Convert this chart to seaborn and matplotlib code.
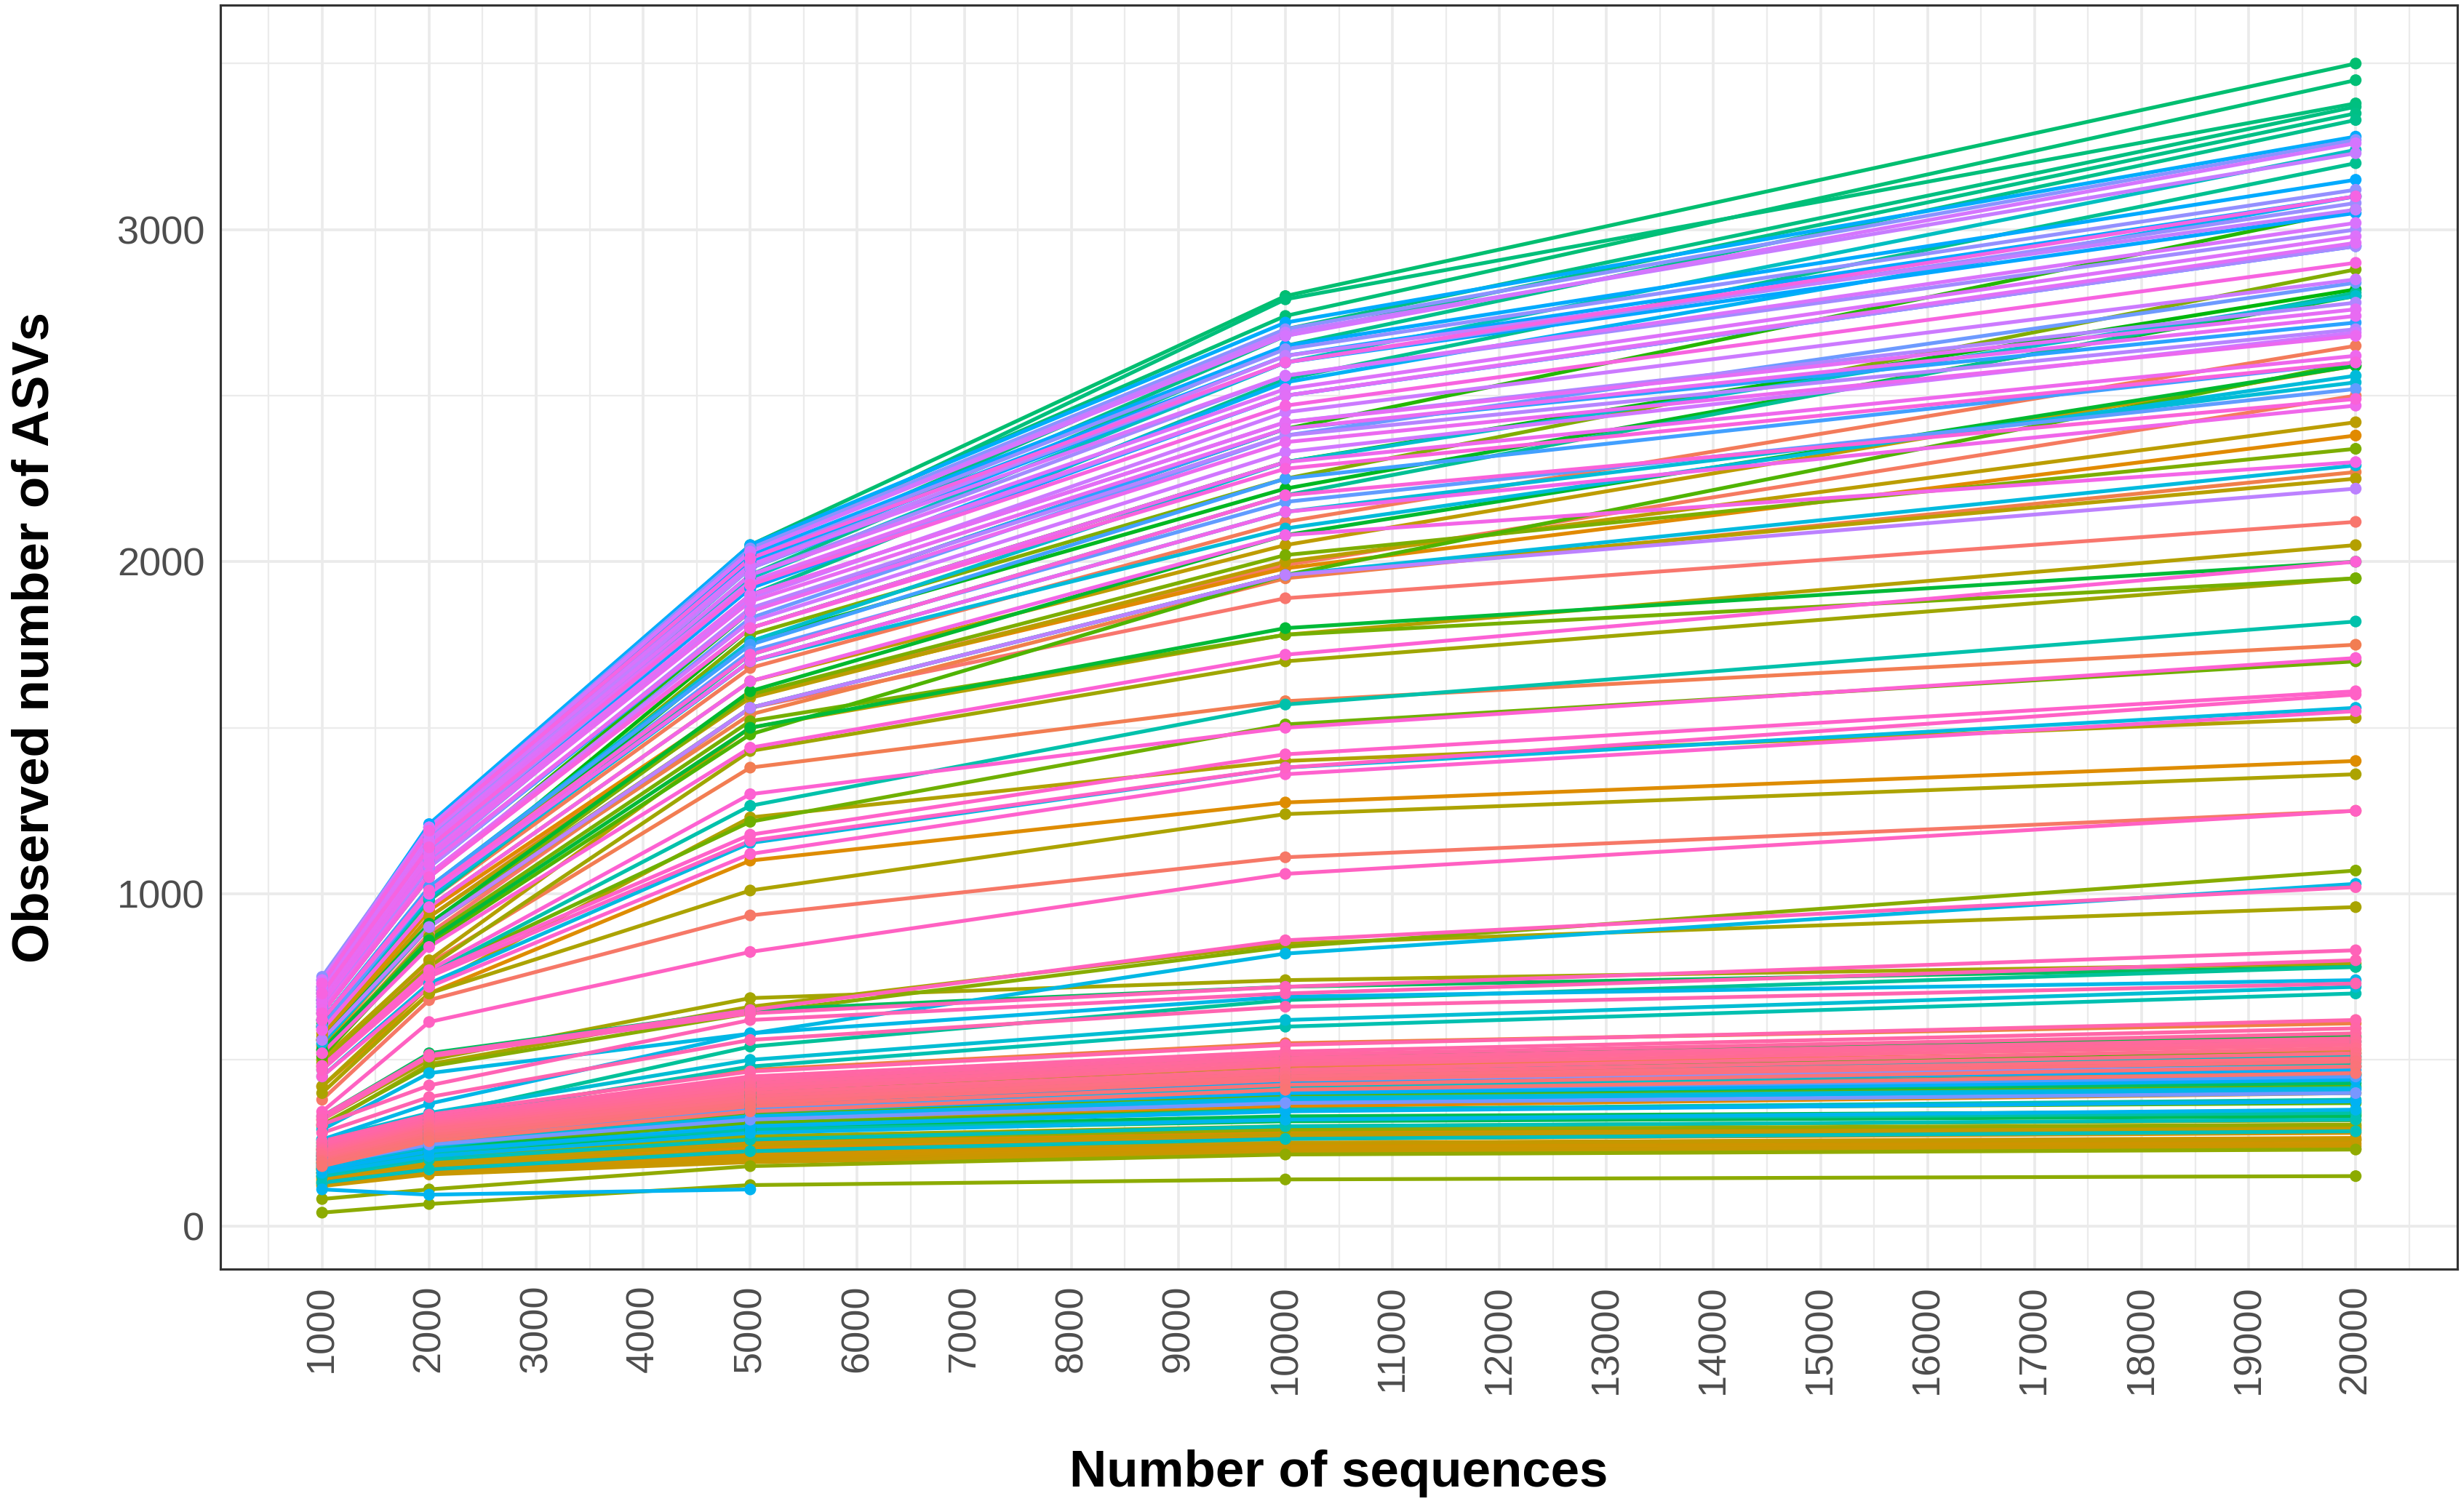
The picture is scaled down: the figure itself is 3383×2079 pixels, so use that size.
import numpy as np
import pandas as pd
import matplotlib
matplotlib.use("Agg")
import matplotlib.pyplot as plt
import seaborn as sns

# ---------------- data ----------------
depths = [1000, 2000, 5000, 10000, 20000]

# observed ASVs per sample at each rarefaction depth (None = depth not reached)
g00 = [[520, 880, 1560, 1890, 2120], [380, 680, 935, 1110, 1250], [560, 930, 1600, 1990, 2500],
       [590, 980, 1680, 2120, 2650], [500, 790, 1380, 1580, 1750], [540, 900, 1540, 1950, 2270],
       [250, 330, 470, 550, 610], [230, 300, 410, 480, 530], [215, 290, 390, 460, 510],
       [200, 270, 360, 420, 460], [190, 255, 340, 400, 440], [175, 240, 310, 360, 400]]
g01 = [[570, 950, 1600, 1980, 2380], [420, 700, 1100, 1275, 1400], [160, 200, 250, 280, 300],
       [150, 190, 240, 270, 290], [145, 180, 230, 262, 280], [140, 175, 220, 250, 265],
       [135, 170, 212, 242, 258], [130, 165, 205, 235, 248], [125, 160, 198, 228, 240],
       [120, 155, 192, 220, 232], [150, 185, 225, 250, 260], [160, 195, 245, 275, 295]]
g02 = [[580, 960, 1640, 2050, 2590], [560, 930, 1590, 2000, 2420], [545, 905, 1560, 1960, 2250],
       [500, 800, 1500, 1780, 2050], [420, 720, 1230, 1400, 1530], [400, 700, 1010, 1240, 1360],
       [300, 487, 660, 850, 960], [320, 500, 686, 740, 790], [490, 780, 1430, 1700, 1950],
       [170, 215, 270, 300, 318], [160, 205, 260, 290, 305], [81, 110, 180, 215, 230]]
g03 = [[40, 66, 123, 140, 150], [305, 480, 640, 840, 1070], [600, 990, 1780, 2250, 2880],
       [560, 900, 1600, 2020, 2340], [530, 870, 1520, 1780, 1950], [480, 760, 1217, 1510, 1700],
       [200, 260, 340, 390, 420], [190, 240, 310, 350, 370], [170, 220, 285, 320, 335],
       [510, 850, 1480, 1960, 2600], [210, 280, 380, 440, 480], [230, 300, 400, 470, 520]]
g04 = [[640, 1050, 1850, 2400, 3060], [620, 1000, 1800, 2300, 2820], [610, 985, 1760, 2220, 2800],
       [560, 910, 1610, 2080, 2590], [530, 860, 1500, 1800, 2000], [240, 320, 430, 510, 570],
       [220, 290, 390, 450, 500], [185, 235, 295, 330, 345], [175, 225, 285, 315, 330],
       [330, 520, 650, 720, 780], [200, 265, 350, 400, 430], [210, 275, 365, 420, 455]]
g05 = [[720, 1200, 2050, 2800, 3500], [710, 1190, 2040, 2740, 3450], [700, 1180, 2020, 2790, 3380],
       [690, 1170, 2000, 2700, 3370], [680, 1150, 1980, 2680, 3350], [670, 1140, 1960, 2650, 3330],
       [660, 1100, 1900, 2550, 3200], [600, 980, 1720, 2200, 2810], [250, 330, 540, 680, 780],
       [230, 310, 420, 500, 555], [210, 285, 385, 445, 490], [180, 230, 290, 320, 340]]
g06 = [[470, 760, 1265, 1570, 1820], [240, 320, 480, 600, 700], [170, 220, 300, 350, 380],
       [150, 200, 260, 300, 320], [130, 170, 225, 262, 285], [680, 1150, 1950, 2600, 3240],
       [220, 295, 400, 465, 510], [200, 270, 360, 420, 455], [620, 1020, 1760, 2300, 2800],
       [190, 250, 330, 385, 415], [260, 340, 500, 620, 720], [600, 990, 1700, 2150, 2540]]
g07 = [[600, 990, 1700, 2100, 2560], [550, 900, 1560, 1960, 2290], [450, 730, 1153, 1380, 1560],
       [290, 460, 579, 820, 1030], [260, 368, 580, 690, 740], [180, 240, 330, 380, 410],
       [160, 210, 280, 320, 350], [110, 94, 110, None, None], [170, 225, 300, 345, 375],
       [660, 1120, 1920, 2540, 3100], [200, 265, 345, 400, 440], [210, 280, 370, 430, 470]]
g08 = [[740, 1210, 2050, 2720, 3280], [720, 1190, 2020, 2650, 3150], [710, 1170, 2000, 2620, 3100],
       [700, 1160, 1980, 2600, 3050], [680, 1120, 1920, 2500, 2950], [650, 1080, 1850, 2400, 2720],
       [620, 1020, 1750, 2250, 2600], [200, 260, 350, 410, 450], [600, 1000, 1730, 2180, 2520],
       [640, 1050, 1830, 2380, 2840], [185, 245, 320, 370, 400], [215, 285, 380, 440, 480]]
g09 = [[750, 1200, 2040, 2700, 3270], [730, 1180, 2010, 2640, 3120], [720, 1170, 1990, 2600, 3080],
       [700, 1150, 1960, 2560, 3000], [690, 1130, 1930, 2500, 2950], [670, 1100, 1900, 2420, 2780],
       [660, 1080, 1860, 2380, 2700], [560, 900, 1560, 1960, 2220], [710, 1160, 1980, 2620, 3060],
       [740, 1200, 2030, 2690, 3230], [680, 1110, 1890, 2450, 2850], [640, 1060, 1820, 2330, 2690]]
g10 = [[740, 1200, 2030, 2680, 3260], [720, 1180, 1990, 2560, 3020], [710, 1160, 1960, 2520, 2980],
       [700, 1150, 1940, 2500, 2960], [690, 1120, 1900, 2420, 2760], [680, 1110, 1880, 2400, 2740],
       [670, 1090, 1850, 2360, 2680], [650, 1060, 1800, 2300, 2620], [620, 1000, 1700, 2150, 2470],
       [590, 960, 1640, 2080, 2300], [730, 1190, 2010, 2600, 3100], [700, 1140, 1930, 2470, 2900]]
g11 = [[640, 1050, 1800, 2280, 2600], [620, 1010, 1720, 2200, 2490], [520, 840, 1440, 1720, 2000],
       [480, 770, 1300, 1500, 1710], [450, 720, 1120, 1360, 1550], [482, 760, 1178, 1420, 1610],
       [470, 750, 1160, 1380, 1600], [344, 614, 825, 1060, 1250], [330, 515, 650, 860, 1020],
       [320, 510, 640, 720, 830], [305, 423, 620, 700, 800], [280, 388, 560, 660, 730]]
g12 = [[255, 335, 465, 545, 620], [245, 325, 450, 525, 595], [235, 318, 440, 515, 580],
       [230, 310, 430, 505, 565], [225, 305, 420, 495, 555], [220, 300, 410, 485, 545],
       [215, 295, 400, 470, 535], [210, 290, 390, 460, 520], [200, 280, 380, 450, 505],
       [195, 272, 370, 440, 495], [190, 265, 360, 425, 480], [180, 255, 345, 410, 460]]

groups = [g00, g01, g02, g03, g04, g05, g06, g07, g08, g09, g10, g11, g12]

rows = []
k = 0
for grp in groups:
    for series in grp:
        k += 1
        name = f"S{k:03d}"
        for d, v in zip(depths, series):
            if v is not None:
                rows.append((name, d, v))
df = pd.DataFrame(rows, columns=["sample", "depth", "asvs"])
samples = list(dict.fromkeys(df["sample"]))
N = len(samples)


# ---------------- ggplot-like hue palette (HCL, c=100, l=65) ----------------
def hcl_to_hex(h, c=100.0, l=65.0):
    hr = np.deg2rad(h)
    u = c * np.cos(hr)
    v = c * np.sin(hr)
    Xn, Yn, Zn = 95.047, 100.0, 108.883
    un = 4 * Xn / (Xn + 15 * Yn + 3 * Zn)
    vn = 9 * Yn / (Xn + 15 * Yn + 3 * Zn)
    Y = Yn * ((l + 16) / 116) ** 3 if l > 8 else Yn * l / 903.3
    up = u / (13 * l) + un
    vp = v / (13 * l) + vn
    X = Y * 9 * up / (4 * vp)
    Z = Y * (12 - 3 * up - 20 * vp) / (4 * vp)
    X, Y, Z = X / 100, Y / 100, Z / 100
    r = 3.2404542 * X - 1.5371385 * Y - 0.4985314 * Z
    g = -0.9692660 * X + 1.8760108 * Y + 0.0415560 * Z
    b = 0.0556434 * X - 0.2040259 * Y + 1.0572252 * Z

    def gam(t):
        t = max(0.0, min(1.0, t))
        return 12.92 * t if t <= 0.0031308 else 1.055 * t ** (1 / 2.4) - 0.055

    return "#{:02X}{:02X}{:02X}".format(*[int(round(gam(t) * 255)) for t in (r, g, b)])


hues = np.linspace(15, 375, N + 1)[:N]
palette = {s: hcl_to_hex(h % 360) for s, h in zip(samples, hues)}

# ---------------- figure ----------------
sns.set_style("white")
plt.rcParams["font.family"] = ["Liberation Sans", "DejaVu Sans"]

W, H, DPI = 3383, 2079, 300
fig = plt.figure(figsize=(W / DPI, H / DPI), dpi=DPI)
fig.patch.set_facecolor("white")
left, right, top, bottom = 303 / W, 3378 / W, 7 / H, 1745 / H
ax = fig.add_axes([left, 1 - bottom, right - left, bottom - top])

sns.lineplot(data=df, x="depth", y="asvs", hue="sample", hue_order=samples,
             palette=palette, estimator=None, linewidth=1.25, legend=False,
             ax=ax, zorder=2)
sns.scatterplot(data=df, x="depth", y="asvs", hue="sample", hue_order=samples,
                palette=palette, s=15, linewidth=0, legend=False, ax=ax, zorder=3)

ax.set_xlim(50, 20950)
ax.set_ylim(-130, 3676)

ax.set_xticks(np.arange(1000, 20001, 1000))
ax.set_xticks(np.arange(500, 20951, 1000), minor=True)
ax.set_yticks([0, 1000, 2000, 3000])
ax.set_yticks([500, 1500, 2500, 3500], minor=True)

ax.grid(which="major", color="#EBEBEB", linewidth=0.9, zorder=0)
ax.grid(which="minor", color="#EBEBEB", linewidth=0.55, zorder=0)
ax.set_axisbelow(True)

ax.tick_params(axis="both", which="major", length=2.6, width=0.7, color="#333333",
               labelsize=13, labelcolor="#4D4D4D", pad=2.6)
ax.tick_params(axis="both", which="minor", length=0)
for lab in ax.get_xticklabels():
    lab.set_rotation(90)
    lab.set_va("top")
    lab.set_ha("center")

for sp in ax.spines.values():
    sp.set_visible(True)
    sp.set_color("#333333")
    sp.set_linewidth(0.75)

ax.set_xlabel("Number of sequences", fontsize=17, fontweight="bold", color="black")
ax.set_ylabel("Observed number of ASVs", fontsize=17, fontweight="bold", color="black")
ax.xaxis.set_label_coords(0.5, -0.1427)
ax.yaxis.set_label_coords(-0.072, 0.5)

fig.savefig("out.png", dpi=DPI, facecolor="white")
